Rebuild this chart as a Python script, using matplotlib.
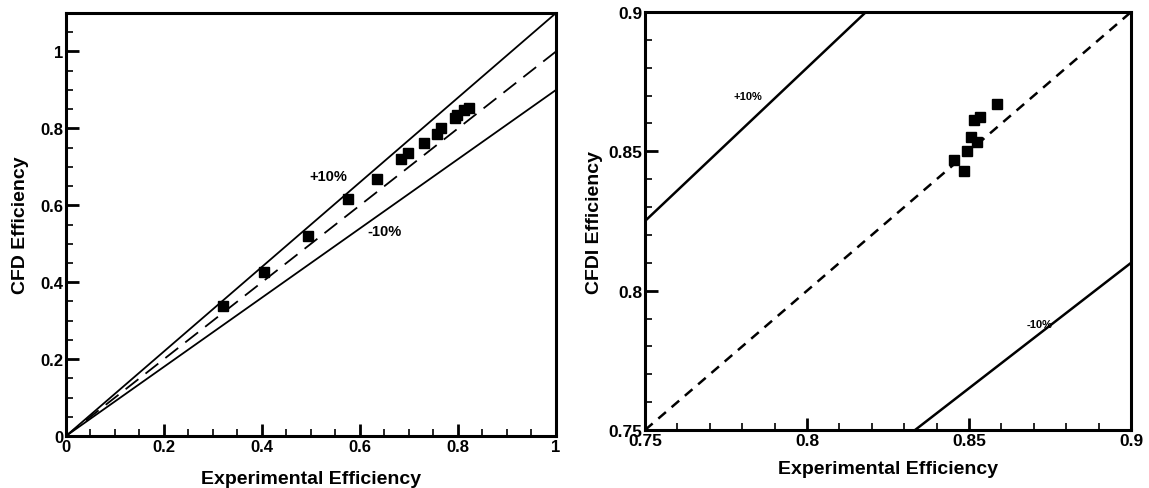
import numpy as np
import matplotlib
matplotlib.use("Agg")
import matplotlib.pyplot as plt
from matplotlib.ticker import MultipleLocator, FormatStrFormatter

plt.rcParams['font.family'] = ['Liberation Sans', 'DejaVu Sans']
plt.rcParams['font.weight'] = 'bold'

# left panel: full range comparison
exp_left = [0.321, 0.404, 0.494, 0.576, 0.634, 0.683, 0.699, 0.731,
            0.758, 0.765, 0.794, 0.797, 0.813, 0.823]
cfd_left = [0.338, 0.427, 0.520, 0.616, 0.668, 0.721, 0.737, 0.763,
            0.786, 0.801, 0.828, 0.836, 0.848, 0.854]

# right panel: zoomed comparison
exp_right = [0.8585, 0.8534, 0.8515, 0.8505, 0.8526, 0.8495, 0.8455, 0.8485]
cfd_right = [0.867, 0.8622, 0.8614, 0.855, 0.8533, 0.8502, 0.8469, 0.8431]


def style_axes(ax, major, minor, lsize):
    for s in ax.spines.values():
        s.set_linewidth(2.2)
    ax.xaxis.set_major_locator(MultipleLocator(major))
    ax.yaxis.set_major_locator(MultipleLocator(major))
    ax.xaxis.set_minor_locator(MultipleLocator(minor))
    ax.yaxis.set_minor_locator(MultipleLocator(minor))
    ax.xaxis.set_major_formatter(FormatStrFormatter('%g'))
    ax.yaxis.set_major_formatter(FormatStrFormatter('%g'))
    ax.tick_params(which='both', direction='in', top=False, right=False,
                   labelsize=lsize, pad=2)
    ax.tick_params(which='major', length=9, width=2)
    ax.tick_params(which='minor', length=5, width=1.2)
    for lab in ax.get_xticklabels() + ax.get_yticklabels():
        lab.set_fontweight('bold')


fig = plt.figure(figsize=(11.49, 4.89), dpi=100)

# ---- left
ax1 = fig.add_axes([0.0574, 0.1063, 0.4265, 0.865])
xl = np.array([0.0, 1.0])
ax1.plot(xl, 1.1 * xl, color='black', lw=1.3)
ax1.plot(xl, 0.9 * xl, color='black', lw=1.3)
ax1.plot(xl, xl, color='black', lw=1.3, dashes=(9, 5))
ax1.plot(exp_left, cfd_left, 's', color='black', ms=7.5, zorder=5)
ax1.text(0.535, 0.675, '+10%', fontsize=10.5, fontweight='bold',
         ha='center', va='center')
ax1.text(0.651, 0.532, '-10%', fontsize=10.5, fontweight='bold',
         ha='center', va='center')
ax1.set_xlim(0, 1)
ax1.set_ylim(0, 1.1)
style_axes(ax1, 0.2, 0.05, 12)
ax1.set_xlabel('Experimental Efficiency', fontsize=14, fontweight='bold',
               labelpad=12)
ax1.set_ylabel('CFD Efficiency', fontsize=14, fontweight='bold', labelpad=8)

# ---- right
ax2 = fig.add_axes([0.5614, 0.1186, 0.423, 0.8548])
xr = np.array([0.75, 0.9])
ax2.plot(xr, 1.1 * xr, color='black', lw=1.8)
ax2.plot(xr, 0.9 * xr, color='black', lw=1.8)
ax2.plot(xr, xr, color='black', lw=1.8, dashes=(4, 3))
ax2.plot(exp_right, cfd_right, 's', color='black', ms=7.5, zorder=5)
ax2.text(0.7818, 0.870, '+10%', fontsize=8, fontweight='bold',
         ha='center', va='center')
ax2.text(0.8719, 0.788, '-10%', fontsize=8, fontweight='bold',
         ha='center', va='center')
ax2.set_xlim(0.75, 0.9)
ax2.set_ylim(0.75, 0.9)
style_axes(ax2, 0.05, 0.01, 12.5)
ax2.set_xlabel('Experimental Efficiency', fontsize=14, fontweight='bold',
               labelpad=9)
ax2.set_ylabel('CFDI Efficiency', fontsize=14, fontweight='bold', labelpad=4)

fig.savefig('out.png', dpi=100)
